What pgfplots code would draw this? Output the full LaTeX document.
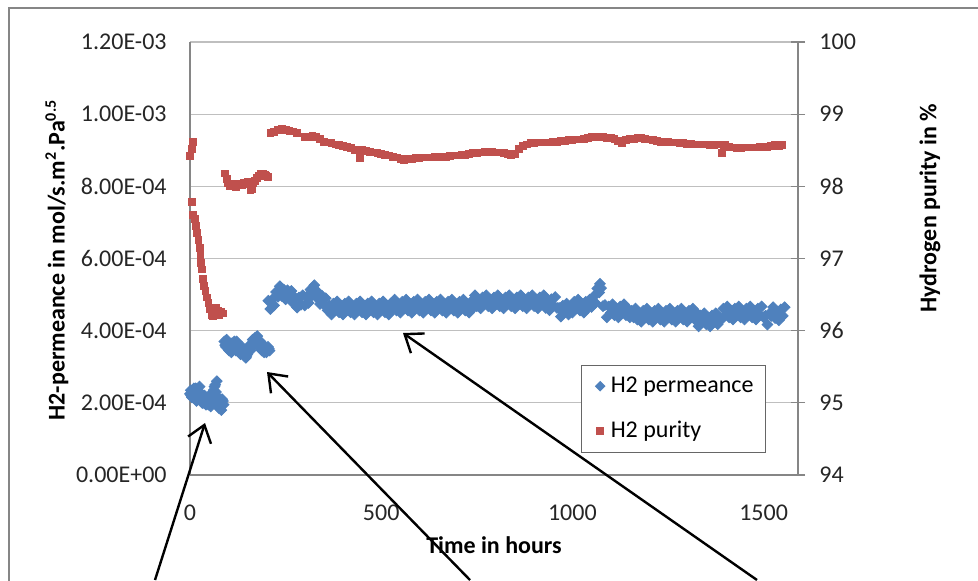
\documentclass[border=0pt]{standalone}
\usepackage{fontspec}
\setmainfont{Carlito}
\usepackage{pgfplots}
\pgfplotsset{compat=1.18}
\usepackage{pgfplotstable}
\usetikzlibrary{arrows.meta}

\definecolor{permblue}{HTML}{4F81BD}
\definecolor{purred}{HTML}{C0504D}
\definecolor{gridgray}{HTML}{BFBFBF}
\definecolor{axisgray}{HTML}{868686}

% H2 permeance (mol/s.m2.Pa0.5) vs time (h)
\pgfplotstableread{
t p
0 2.25e-4
2 2.35e-4
3 2.20e-4
5 2.15e-4
6 2.35e-4
9 2.30e-4
10 2.40e-4
12 2.15e-4
14 2.25e-4
15 2.40e-4
17 2.05e-4
18 2.30e-4
21 2.10e-4
23 2.30e-4
25 2.45e-4
28 2.20e-4
30 2.25e-4
32 2.00e-4
34 2.00e-4
36 2.10e-4
38 2.20e-4
40 2.05e-4
42 1.95e-4
44 2.15e-4
46 2.05e-4
48 1.95e-4
50 2.20e-4
52 2.10e-4
54 1.90e-4
56 2.00e-4
58 2.10e-4
60 2.25e-4
62 2.35e-4
64 2.45e-4
66 2.50e-4
68 2.30e-4
70 2.60e-4
72 2.00e-4
74 2.15e-4
76 1.85e-4
78 2.00e-4
80 1.90e-4
82 1.80e-4
84 2.10e-4
86 2.05e-4
88 1.95e-4
90 3.70e-4
92 3.60e-4
94 3.55e-4
96 3.75e-4
98 3.60e-4
100 3.50e-4
102 3.45e-4
104 3.60e-4
106 3.50e-4
108 3.40e-4
110 3.65e-4
112 3.55e-4
114 3.50e-4
116 3.70e-4
118 3.60e-4
120 3.45e-4
122 3.70e-4
124 3.62e-4
126 3.55e-4
128 3.48e-4
130 3.40e-4
132 3.35e-4
134 3.50e-4
136 3.55e-4
138 3.40e-4
140 3.45e-4
142 3.30e-4
144 3.38e-4
146 3.25e-4
148 3.30e-4
150 3.35e-4
152 3.42e-4
154 3.50e-4
156 3.60e-4
158 3.45e-4
160 3.52e-4
162 3.60e-4
164 3.75e-4
166 3.70e-4
168 3.62e-4
170 3.80e-4
172 3.70e-4
174 3.75e-4
176 3.85e-4
178 3.60e-4
180 3.55e-4
182 3.65e-4
184 3.70e-4
186 3.50e-4
188 3.45e-4
190 3.55e-4
192 3.60e-4
194 3.40e-4
196 3.50e-4
198 3.50e-4
200 3.40e-4
202 3.45e-4
204 3.55e-4
206 3.50e-4
208 3.45e-4
205 4.83e-4
210 4.60e-4
215 4.86e-4
220 4.70e-4
225 5.07e-4
230 4.94e-4
235 5.23e-4
240 4.96e-4
245 5.14e-4
250 4.87e-4
255 5.12e-4
260 4.92e-4
265 5.10e-4
270 4.76e-4
275 4.91e-4
280 4.64e-4
285 4.92e-4
290 4.72e-4
295 4.98e-4
300 4.70e-4
305 4.94e-4
310 4.77e-4
315 5.14e-4
320 4.99e-4
325 5.26e-4
330 4.93e-4
335 5.06e-4
340 4.74e-4
345 4.97e-4
350 4.72e-4
355 4.90e-4
360 4.56e-4
365 4.69e-4
370 4.45e-4
375 4.75e-4
380 4.57e-4
385 4.81e-4
390 4.51e-4
395 4.69e-4
400 4.45e-4
405 4.75e-4
410 4.57e-4
415 4.81e-4
420 4.51e-4
425 4.69e-4
430 4.45e-4
435 4.75e-4
440 4.57e-4
445 4.81e-4
450 4.51e-4
455 4.69e-4
460 4.45e-4
465 4.75e-4
470 4.57e-4
475 4.81e-4
480 4.51e-4
485 4.69e-4
490 4.45e-4
495 4.75e-4
500 4.57e-4
505 4.81e-4
510 4.51e-4
515 4.69e-4
520 4.45e-4
525 4.75e-4
530 4.62e-4
535 4.86e-4
540 4.56e-4
545 4.74e-4
550 4.50e-4
555 4.80e-4
560 4.62e-4
565 4.86e-4
570 4.56e-4
575 4.74e-4
580 4.50e-4
585 4.80e-4
590 4.62e-4
595 4.86e-4
600 4.56e-4
605 4.74e-4
610 4.50e-4
615 4.80e-4
620 4.62e-4
625 4.86e-4
630 4.56e-4
635 4.74e-4
640 4.50e-4
645 4.80e-4
650 4.62e-4
655 4.86e-4
660 4.56e-4
665 4.74e-4
670 4.50e-4
675 4.80e-4
680 4.62e-4
685 4.86e-4
690 4.56e-4
695 4.74e-4
700 4.50e-4
705 4.80e-4
710 4.62e-4
715 4.86e-4
720 4.56e-4
725 4.74e-4
730 4.50e-4
735 4.80e-4
740 4.62e-4
745 4.98e-4
750 4.68e-4
755 4.86e-4
760 4.62e-4
765 4.92e-4
770 4.74e-4
775 4.98e-4
780 4.68e-4
785 4.86e-4
790 4.62e-4
795 4.92e-4
800 4.74e-4
805 4.98e-4
810 4.68e-4
815 4.86e-4
820 4.62e-4
825 4.92e-4
830 4.74e-4
835 4.98e-4
840 4.68e-4
845 4.86e-4
850 4.62e-4
855 4.92e-4
860 4.74e-4
865 4.98e-4
870 4.68e-4
875 4.86e-4
880 4.62e-4
885 4.92e-4
890 4.74e-4
895 4.98e-4
900 4.68e-4
905 4.86e-4
910 4.62e-4
915 4.92e-4
920 4.74e-4
925 4.98e-4
930 4.63e-4
935 4.81e-4
940 4.57e-4
945 4.87e-4
950 4.69e-4
955 4.93e-4
960 4.63e-4
965 4.63e-4
970 4.39e-4
975 4.69e-4
980 4.51e-4
985 4.75e-4
990 4.45e-4
995 4.63e-4
1000 4.50e-4
1005 4.80e-4
1010 4.62e-4
1015 4.86e-4
1020 4.56e-4
1025 4.74e-4
1030 4.50e-4
1035 4.80e-4
1040 4.62e-4
1045 4.86e-4
1050 4.66e-4
1055 4.94e-4
1060 4.77e-4
1065 5.17e-4
1070 5.06e-4
1072 5.30e-4
1075 5.18e-4
1080 4.68e-4
1085 4.71e-4
1090 4.37e-4
1095 4.67e-4
1100 4.49e-4
1105 4.73e-4
1110 4.43e-4
1115 4.61e-4
1120 4.37e-4
1125 4.67e-4
1130 4.49e-4
1135 4.73e-4
1140 4.43e-4
1145 4.61e-4
1150 4.37e-4
1155 4.55e-4
1160 4.37e-4
1165 4.61e-4
1170 4.31e-4
1175 4.49e-4
1180 4.25e-4
1185 4.55e-4
1190 4.37e-4
1195 4.61e-4
1200 4.31e-4
1205 4.49e-4
1210 4.25e-4
1215 4.55e-4
1220 4.37e-4
1225 4.61e-4
1230 4.31e-4
1235 4.49e-4
1240 4.25e-4
1245 4.55e-4
1250 4.37e-4
1255 4.61e-4
1260 4.31e-4
1265 4.49e-4
1270 4.25e-4
1275 4.55e-4
1280 4.37e-4
1285 4.61e-4
1290 4.31e-4
1295 4.49e-4
1300 4.25e-4
1305 4.55e-4
1310 4.37e-4
1315 4.61e-4
1320 4.31e-4
1325 4.49e-4
1330 4.12e-4
1335 4.42e-4
1340 4.24e-4
1345 4.48e-4
1350 4.18e-4
1355 4.36e-4
1360 4.12e-4
1365 4.42e-4
1370 4.24e-4
1375 4.48e-4
1380 4.18e-4
1385 4.36e-4
1390 4.31e-4
1395 4.61e-4
1400 4.43e-4
1405 4.67e-4
1410 4.37e-4
1415 4.55e-4
1420 4.31e-4
1425 4.61e-4
1430 4.43e-4
1435 4.67e-4
1440 4.37e-4
1445 4.55e-4
1450 4.31e-4
1455 4.61e-4
1460 4.43e-4
1465 4.67e-4
1470 4.37e-4
1475 4.55e-4
1480 4.31e-4
1485 4.61e-4
1490 4.43e-4
1495 4.67e-4
1500 4.37e-4
1505 4.41e-4
1510 4.17e-4
1515 4.47e-4
1520 4.41e-4
1525 4.65e-4
1530 4.35e-4
1535 4.53e-4
1540 4.29e-4
1545 4.59e-4
1550 4.41e-4
1555 4.65e-4
}\perm

% H2 purity (%) vs time (h)
\pgfplotstableread{
t q
0 98.42
4 98.52
7 98.62
5 97.78
8 97.60
12 97.55
16 97.45
19 97.35
22 97.26
25 97.15
27 97.05
29 96.94
31 96.85
34 96.72
37 96.62
40 96.55
44 96.46
48 96.38
52 96.30
56 96.22
60 96.20
64 96.26
68 96.32
72 96.28
76 96.22
80 96.26
85 96.24
92 98.18
96 98.10
100 98.04
105 98.00
110 98.02
115 98.03
120 97.99
125 98.02
130 98.04
135 98.02
140 98.05
145 98.03
150 98.06
155 98.04
158 97.95
162 97.97
166 98.04
170 98.08
175 98.12
180 98.15
185 98.17
190 98.18
195 98.16
200 98.14
204 98.13
210 98.74
220 98.75
230 98.78
240 98.80
250 98.78
260 98.77
270 98.76
280 98.74
300 98.69
310 98.69
320 98.70
330 98.68
340 98.66
350 98.62
360 98.61
370 98.60
380 98.58
390 98.57
400 98.56
410 98.55
420 98.53
430 98.51
440 98.50
444 98.39
450 98.50
460 98.49
470 98.48
480 98.47
490 98.46
500 98.45
510 98.44
520 98.43
530 98.41
540 98.40
550 98.38
560 98.37
570 98.38
580 98.38
590 98.39
600 98.39
610 98.40
620 98.40
630 98.40
640 98.41
650 98.41
660 98.41
670 98.41
680 98.42
690 98.43
700 98.43
710 98.44
720 98.44
730 98.45
740 98.46
750 98.46
760 98.47
770 98.48
780 98.48
790 98.48
800 98.47
810 98.47
820 98.46
830 98.45
840 98.44
850 98.45
860 98.52
870 98.56
880 98.58
890 98.60
900 98.60
910 98.61
920 98.61
930 98.61
940 98.61
950 98.62
960 98.62
970 98.63
980 98.63
990 98.64
1000 98.64
1010 98.65
1020 98.65
1030 98.66
1040 98.67
1050 98.68
1060 98.69
1070 98.69
1080 98.68
1090 98.67
1100 98.67
1110 98.66
1120 98.63
1130 98.60
1140 98.64
1150 98.66
1160 98.66
1170 98.67
1180 98.67
1190 98.66
1200 98.65
1210 98.64
1220 98.63
1230 98.62
1240 98.62
1250 98.62
1260 98.61
1270 98.61
1280 98.60
1290 98.60
1300 98.59
1310 98.59
1320 98.58
1330 98.58
1340 98.58
1350 98.58
1360 98.57
1370 98.57
1380 98.58
1390 98.46
1395 98.56
1400 98.57
1410 98.55
1420 98.54
1430 98.53
1440 98.53
1450 98.54
1460 98.54
1470 98.54
1480 98.54
1490 98.55
1500 98.54
1510 98.55
1520 98.56
1530 98.57
1540 98.56
1547 98.57
}\purity

\pgfplotsset{
  common/.style={
    at={(95pt,52.5pt)}, anchor=south west,
    scale only axis, width=304pt, height=216.5pt,
    xmin=0, xmax=1590,
    axis line style={axisgray, line width=0.6pt},
    tick label style={black!85},
    /pgf/number format/assume math mode=true,
    /pgf/number format/1000 sep={},
    clip=false,
  },
}

\begin{document}
\fontsize{12}{14.4}\selectfont
\begin{tikzpicture}
\begin{axis}[
  common,
  ymin=0, ymax=1.2e-3,
  axis x line*=bottom, axis y line*=left,
  xtick={0,500,1000,1500},
  ytick={0,2e-4,4e-4,6e-4,8e-4,10e-4,12e-4},
  yticklabels={0.00E+00,2.00E-04,4.00E-04,6.00E-04,8.00E-04,1.00E-03,1.20E-03},
  scaled y ticks=false,
  major tick length=0pt,
  ymajorgrids, grid style={gridgray, line width=0.6pt},
  xticklabel style={yshift=-11pt},
  yticklabel style={xshift=-7.5pt},
  xlabel={\bfseries Time in hours},
  xlabel style={at={(axis description cs:0.5,-0.1617)}, anchor=center},
  ylabel={\bfseries H2-permeance in mol/s.m\textsuperscript{2}.Pa\textsuperscript{0.5}},
  ylabel style={at={(axis description cs:-0.2188,0.4965)}, anchor=center},
]
\addplot[only marks, mark=square*, mark size=1.9pt,
  mark options={rotate=45, fill=permblue, draw=permblue}] table {\perm};
\end{axis}

\begin{axis}[
  common,
  ymin=94, ymax=100,
  axis x line=none, axis y line*=right,
  ytick={94,95,96,97,98,99,100},
  tick align=center, major tick length=7pt,
  tick style={axisgray, line width=0.6pt},
  yticklabel style={xshift=3pt},
  ylabel={\bfseries Hydrogen purity in \%},
  ylabel style={at={(axis description cs:1.217,0.6166)}, anchor=center},
  legend style={at={(axis description cs:0.643,0.0508)}, anchor=south west,
    draw=black!60, line width=0.6pt, fill=white,
    inner xsep=4pt, inner ysep=3.75pt, row sep=8.5pt},
  legend cell align=left,
  legend image code/.code={\path (-5pt,0pt) (3pt,0pt);
    \draw[#1] plot coordinates {(0pt,0pt)};},
]
\addlegendimage{only marks, mark=square*, mark size=1.6pt,
  mark options={rotate=45, fill=permblue, draw=permblue}}
\addlegendentry{H2 permeance}
\addplot[only marks, mark=square*, mark size=1.7pt,
  mark options={fill=purred, draw=purred}] table {\purity};
\addlegendentry{H2 purity}
\end{axis}

\begin{scope}[x=0.5pt, y=-0.5pt, shift={(0pt,290pt)}]
  \draw[axisgray, line width=0.8pt] (9,600) -- (9,8) -- (990,8);
  \draw[black, line width=1.2pt, -{Straight Barb[length=8pt,width=12pt]}] (155,580) -- (205,423);
  \draw[black, line width=1.2pt, -{Straight Barb[length=8pt,width=12pt]}] (470,580) -- (267,372);
  \draw[black, line width=1.2pt, -{Straight Barb[length=8pt,width=12pt]}] (757,580) -- (403,333);
\end{scope}

\pgfresetboundingbox
\path[use as bounding box] (0pt,0pt) rectangle (489pt,290pt);
\end{tikzpicture}
\end{document}
